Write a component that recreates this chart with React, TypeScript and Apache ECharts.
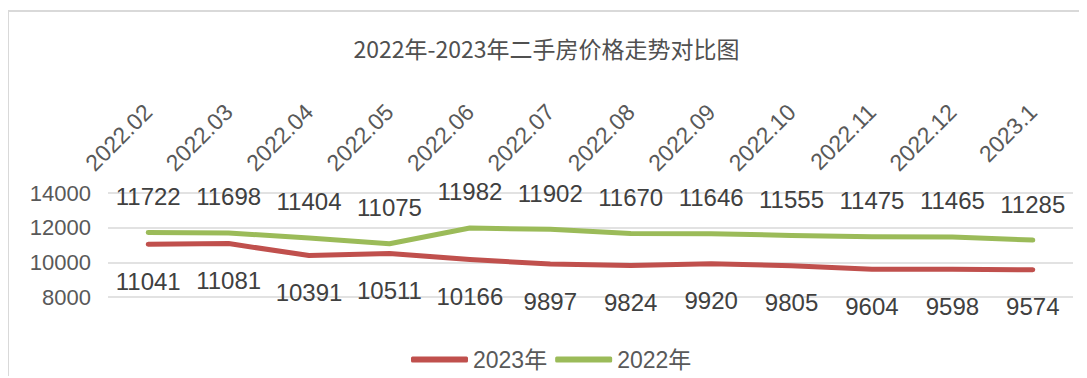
import React, { useEffect, useRef } from "react";
import * as echarts from "echarts";

const categories = ["2022.02", "2022.03", "2022.04", "2022.05", "2022.06", "2022.07", "2022.08", "2022.09", "2022.10", "2022.11", "2022.12", "2023.1"];
const values2023 = [11041, 11081, 10391, 10511, 10166, 9897, 9824, 9920, 9805, 9604, 9598, 9574];
const values2022 = [11722, 11698, 11404, 11075, 11982, 11902, 11670, 11646, 11555, 11475, 11465, 11285];
const titleText = "2022年-2023年二手房价格走势对比图";
const seriesNames = ["2023年", "2022年"];

const FONT = "'Liberation Sans', 'Noto Sans CJK SC', sans-serif";

export default function App() {
  const ref = useRef<HTMLDivElement>(null);
  useEffect(() => {
    if (!ref.current) return;
    const chart = echarts.init(ref.current, null, { renderer: "svg" });
    chart.setOption({
      animation: false,
      backgroundColor: "#ffffff",
      title: {
        text: titleText,
        left: "center",
        top: 19,
        textStyle: { fontFamily: "'Noto Sans CJK SC', sans-serif", fontSize: 23, fontWeight: "normal", color: "#505050" },
      },
      legend: {
        data: seriesNames.map((n) => ({ name: n, icon: "roundRect" })),
        left: 397,
        top: 331,
        itemWidth: 57,
        itemHeight: 6,
        itemGap: 8,
        textStyle: { fontFamily: FONT, fontSize: 23, color: "#595959" },
      },
      grid: { left: 99, top: 181, width: 965, height: 104, containLabel: false },
      xAxis: {
        type: "category",
        position: "top",
        data: categories,
        boundaryGap: true,
        axisLine: { show: false },
        axisTick: { show: false },
        axisLabel: {
          rotate: -45,
          align: "right",
          verticalAlign: "middle",
          margin: 85,
          fontFamily: FONT,
          fontSize: 23,
          color: "#595959",
          interval: 0,
        },
      },
      yAxis: {
        type: "value",
        min: 8000,
        max: 14000,
        interval: 2000,
        axisLine: { show: false },
        axisTick: { show: false },
        axisLabel: { fontFamily: FONT, fontSize: 22, color: "#595959", margin: 17, formatter: (v: number) => String(v) },
        splitLine: { lineStyle: { color: "#d9d9d9", width: 1.5 } },
      },
      series: [
        {
          name: seriesNames[0],
          type: "line",
          data: values2023,
          symbol: "circle",
          symbolSize: 0.1,
          showSymbol: true,
          lineStyle: { color: "#c0504d", width: 5, cap: "round", join: "round" },
          itemStyle: { color: "#c0504d" },
          label: { show: true, position: "bottom", distance: 25, fontFamily: FONT, fontSize: 24, color: "#404040" },
        },
        {
          name: seriesNames[1],
          type: "line",
          data: values2022,
          symbol: "circle",
          symbolSize: 0.1,
          showSymbol: true,
          lineStyle: { color: "#9bbb59", width: 5, cap: "round", join: "round" },
          itemStyle: { color: "#9bbb59" },
          label: { show: true, position: "top", distance: 24, fontFamily: FONT, fontSize: 24, color: "#404040" },
        },
      ],
    });
    return () => chart.dispose();
  }, []);
  return (
    <div style={{ borderLeft: "2px solid #d9d9d9", borderTop: "2px solid #d9d9d9", width: 1075, height: 364, marginLeft: -1, marginTop: 2 }}>
      <div ref={ref} style={{ width: 1075, height: 364 }} />
    </div>
  );
}
